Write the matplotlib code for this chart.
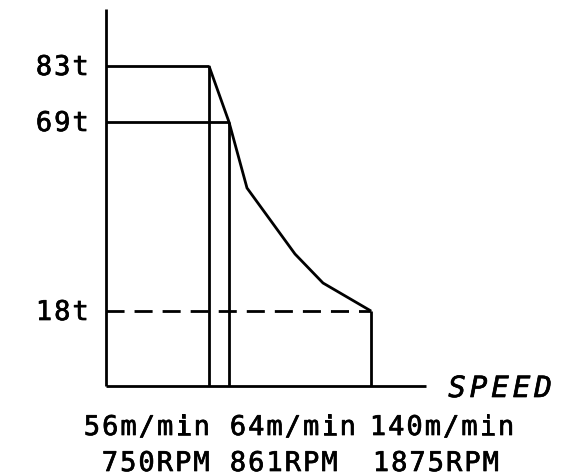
import matplotlib.pyplot as plt
import matplotlib.patheffects as pe

# schematic diagram: positions are distances from the origin (not to scale)
speed_labels = ['56m/min', '64m/min', '140m/min']
rpm_labels = ['750RPM', '861RPM', '1875RPM']
speed_pos = [103, 123, 265]

torque_labels = ['83t', '69t', '18t']
torque_pos = [320, 264, 75]

curve_x = [103, 123, 141, 189, 217, 265]
curve_y = [320, 264, 198, 132, 103, 75]

x_axis_end = 320
y_axis_end = 377

fig = plt.figure(figsize=(5.75, 4.76), dpi=100)
ax = fig.add_axes([0, 0, 1, 1])
ax.set_xlim(-106, 469)
ax.set_ylim(-90, 386)
ax.axis('off')

lw = 2.0
kw = dict(color='black', lw=lw, solid_capstyle='butt', solid_joinstyle='miter')

# axes
ax.plot([0, 0], [0, y_axis_end], **kw)
ax.plot([0, x_axis_end], [0, 0], **kw)

# torque levels
ax.plot([0, speed_pos[0]], [torque_pos[0]] * 2, **kw)
ax.plot([0, speed_pos[1]], [torque_pos[1]] * 2, **kw)
ax.plot([0, speed_pos[2]], [torque_pos[2]] * 2, color='black', lw=lw,
        dashes=(6.5, 3.6), dash_capstyle='butt')

# speed verticals
for sx, ty in zip(speed_pos, torque_pos):
    ax.plot([sx, sx], [0, ty], **kw)

# curve
ax.plot(curve_x, curve_y, **kw)

thick = [pe.withStroke(linewidth=0.5, foreground='black')]


def spaced(x, y, s, pitch=18.3, size=19.5, style='normal'):
    # place each char on a fixed pitch (the original font is letter-spaced)
    for i, c in enumerate(s):
        ax.text(x + 7 + i * pitch, y, c, ha='center', va='baseline',
                family='DejaVu Sans Mono', fontsize=size, style=style,
                path_effects=thick)


label_x = -69
for lab, ty in zip(torque_labels, torque_pos):
    spaced(label_x, ty - 9, lab)

row1_x = [-21, 125, 265]
row2_x = [-3, 125, 268]
for lab, x in zip(speed_labels, row1_x):
    spaced(x, -49, lab)
for lab, x in zip(rpm_labels, row2_x):
    spaced(x, -85, lab)

spaced(344, -11, 'SPEED', pitch=21.5, size=21, style='italic')

plt.savefig('out.png', dpi=100)
